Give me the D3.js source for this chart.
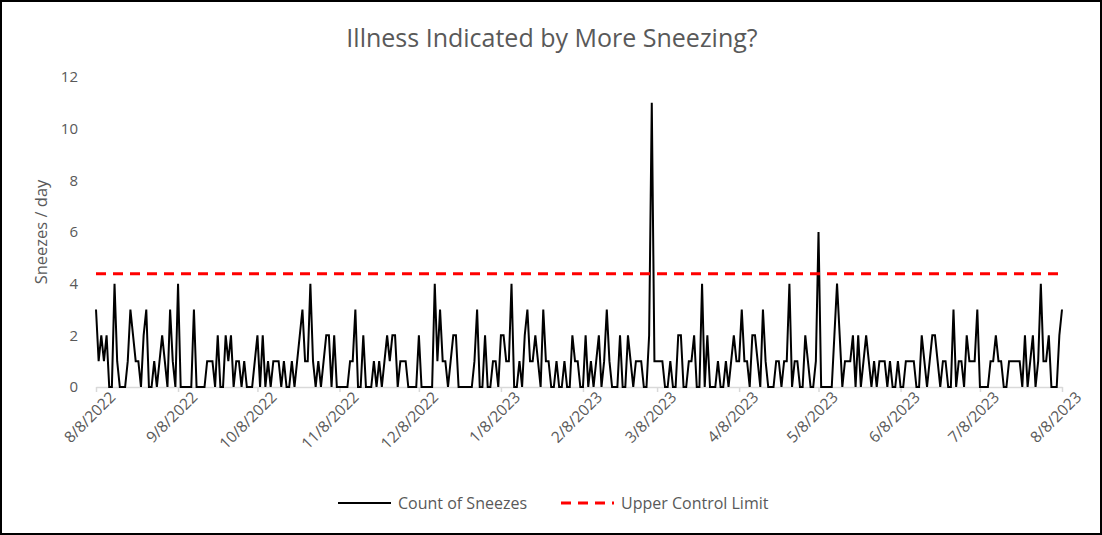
<!DOCTYPE html>
<html>
<head>
<meta charset="utf-8">
<script src="https://cdn.jsdelivr.net/npm/d3@7"></script>
<style>
  body { margin: 0; background: #fff; }
  text { font-family: "Open Sans", Lato, sans-serif; fill: #595959; }
</style>
</head>
<body>
<div id="chart"></div>
<script>
// daily counts, one per day starting 8/8/2022
const startDay = "2022-08-08";
const sneezes = [
  3,1,2,1,2,0,0,4,1,0, 0,0,1,3,2,1,1,0,2,3, 0,0,1,0,1,2,1,0,3,1,
  0,4,0,0,0,0,0,3,0,0, 0,0,1,1,1,0,2,0,0,2, 1,2,0,1,1,0,1,0,0,0,
  1,2,0,2,0,1,0,1,1,1, 0,1,0,0,1,0,1,2,3,1, 1,4,1,0,1,0,1,2,2,0,
  2,0,0,0,0,0,1,1,3,0, 0,2,0,0,0,1,0,1,0,1, 2,1,2,2,0,1,1,1,0,0,
  0,0,2,0,0,0,0,0,4,1, 3,1,1,0,1,2,2,0,0,0, 0,0,0,1,3,0,0,2,0,0,
  1,1,0,2,2,1,1,4,0,0, 1,0,2,3,1,1,2,1,0,3, 1,1,0,0,1,0,0,1,0,0,
  2,1,1,0,0,2,0,1,0,1, 2,0,1,3,1,0,0,0,2,0, 0,2,1,0,1,1,1,0,0,2,
  11,1,1,1,1,0,0,1,0,0, 2,2,0,0,1,1,2,0,0,4, 0,2,0,0,0,1,0,0,1,0,
  1,2,1,1,3,1,1,0,2,2, 1,0,3,1,0,0,0,1,1,0, 1,1,4,0,1,1,0,0,2,1,
  0,0,1,6,0,0,0,0,0,2, 4,2,0,1,1,1,2,0,2,0, 1,2,1,0,1,0,1,1,1,0,
  1,0,0,1,0,0,1,1,1,1, 0,0,2,1,0,1,2,2,1,0, 1,1,0,0,3,0,1,1,0,2,
  1,1,1,3,0,0,0,0,1,1, 2,1,1,0,0,1,1,1,1,1, 0,2,0,1,2,0,1,4,1,1,
  2,0,0,0,2,3
];
const upperControlLimit = 4.38;
const tickDates = ["2022-08-08","2022-09-08","2022-10-08","2022-11-08","2022-12-08",
  "2023-01-08","2023-02-08","2023-03-08","2023-04-08","2023-05-08",
  "2023-06-08","2023-07-08","2023-08-08"];
const yTicks = [0, 2, 4, 6, 8, 10, 12];
const seriesNames = ["Count of Sneezes", "Upper Control Limit"];

const W = 1102, H = 535;
const margin = {top: 77, right: 40, bottom: 148, left: 96},
      width = 1062 - margin.left,
      height = 387 - margin.top;

const parse = d3.utcParse("%Y-%m-%d");
const start = parse(startDay);
const data = sneezes.map((v, i) => ({date: d3.utcDay.offset(start, i), value: v}));

const root = d3.select("#chart").append("svg")
  .attr("width", W).attr("height", H);

root.append("rect")
  .attr("x", 1).attr("y", 1).attr("width", W - 2).attr("height", H - 2)
  .attr("fill", "#fff").attr("stroke", "#000").attr("stroke-width", 2);

root.append("text")
  .attr("x", W / 2 + 1).attr("y", 47)
  .attr("text-anchor", "middle")
  .style("font-size", "25px")
  .text("Illness Indicated by More Sneezing?");

const svg = root.append("g")
  .attr("transform", `translate(${margin.left},${margin.top})`);

const x = d3.scaleUtc()
  .domain([start, parse(tickDates[tickDates.length - 1])])
  .range([0, width]);

const y = d3.scaleLinear()
  .domain([0, 12])
  .range([height, 0]);

// y axis (labels only)
const yAxis = svg.append("g")
  .call(d3.axisLeft(y).tickValues(yTicks).tickSize(0).tickPadding(18));
yAxis.select(".domain").remove();
yAxis.selectAll("text").style("font-size", "15px").attr("fill", "#595959");

// x axis
const xAxis = svg.append("g")
  .attr("transform", `translate(0,${height})`)
  .call(d3.axisBottom(x)
    .tickValues(tickDates.map(parse))
    .tickFormat(d3.utcFormat("%-m/%-d/%Y"))
    .tickSize(5).tickSizeOuter(0));
xAxis.select(".domain").attr("stroke", "#d9d9d9").attr("stroke-width", 1.5);
xAxis.selectAll(".tick line").attr("stroke", "#d9d9d9").attr("stroke-width", 1.5);
xAxis.selectAll("text")
  .style("font-size", "15.5px")
  .attr("fill", "#595959")
  .attr("text-anchor", "end")
  .attr("dx", "0.4em")
  .attr("dy", "0.9em")
  .attr("transform", "rotate(-45)");

root.append("text")
  .attr("transform", `translate(47,${margin.top + height / 2}) rotate(-90)`)
  .attr("text-anchor", "middle")
  .style("font-size", "16.5px")
  .text("Sneezes / day");

// series
const line = d3.line()
  .x(d => x(d.date))
  .y(d => y(d.value));

svg.append("path")
  .datum(data)
  .attr("fill", "none")
  .attr("stroke", "#000")
  .attr("stroke-width", 2)
  .attr("stroke-linejoin", "miter")
  .attr("d", line);

svg.append("line")
  .attr("x1", 0).attr("x2", width)
  .attr("y1", y(upperControlLimit)).attr("y2", y(upperControlLimit))
  .attr("stroke", "#ff0000")
  .attr("stroke-width", 3)
  .attr("stroke-dasharray", "10,7");

// legend
const legend = root.append("g").attr("transform", "translate(338,503)");
const items = [
  {name: seriesNames[0], color: "#000", dash: null, w: 2, x: 0},
  {name: seriesNames[1], color: "#ff0000", dash: "10,7", w: 3, x: 223}
];
items.forEach(it => {
  legend.append("line")
    .attr("x1", it.x).attr("x2", it.x + 53)
    .attr("y1", 0).attr("y2", 0)
    .attr("stroke", it.color)
    .attr("stroke-width", it.w)
    .attr("stroke-dasharray", it.dash);
  legend.append("text")
    .attr("x", it.x + 60).attr("y", 0)
    .attr("dy", "0.35em")
    .style("font-size", "16px")
    .text(it.name);
});
</script>
</body>
</html>
